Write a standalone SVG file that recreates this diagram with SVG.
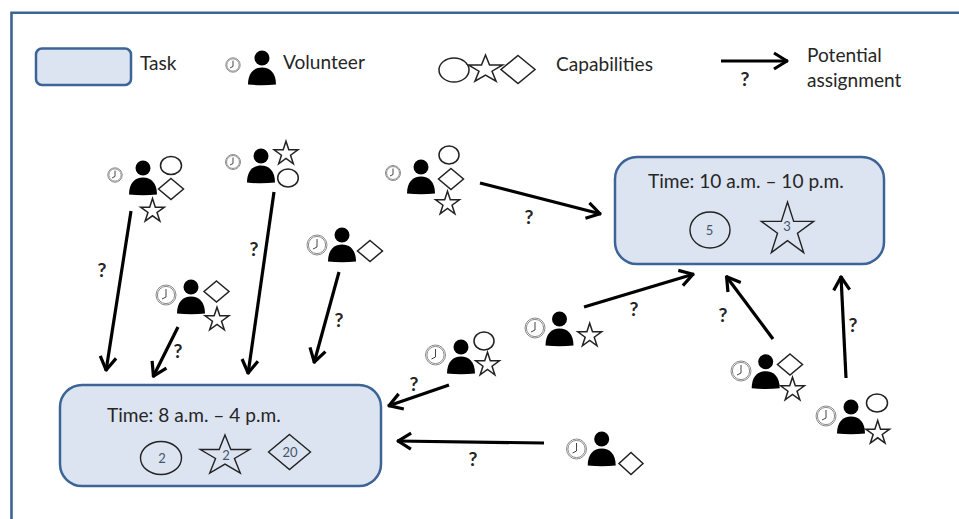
<svg xmlns="http://www.w3.org/2000/svg" width="959" height="519" viewBox="0 0 959 519">
<style>
text{font-family:Lato,"Open Sans",sans-serif;fill:#262626}
.lab{font-size:19.1px}
.num{font-size:13px;text-anchor:middle;fill:#44546a}
.q{font-size:19.5px;font-weight:700;text-anchor:middle}
.task{fill:#dce4f1;stroke:#3c6496;stroke-width:2.5}
.shape{vector-effect:non-scaling-stroke}
.cap{fill:#fff;stroke:#222;stroke-width:1.5}
.tcap{fill:none;stroke:#222;stroke-width:1.4}
.arr{fill:none;stroke:#000;stroke-width:3.2;marker-end:url(#head)}
.ck{fill:#fff;stroke:#8c8c8c;stroke-width:1;vector-effect:non-scaling-stroke}
.hand{fill:none;stroke:#444;stroke-width:1;vector-effect:non-scaling-stroke}
</style>
<defs>
<marker id="head" markerUnits="userSpaceOnUse" markerWidth="20" markerHeight="22" viewBox="-17 -11 20 22" refX="0" refY="0" orient="auto">
<path d="M-14 -8L-1 0L-14 8" fill="none" stroke="#000" stroke-width="3.2" stroke-linejoin="round"/>
</marker>
<g id="person"><circle cx="0" cy="0" r="7.5" fill="#000"/><path d="M-14 26.5C-14 15 -8 9.5 0 9.5C8 9.5 14 15 14 26.5Q0 28 -14 26.5Z" fill="#000"/></g>
<g id="clock"><circle class="ck" r="10"/><circle class="ck" r="8.6"/><path class="hand" d="M0 -6V2L-4 4"/></g>
<polygon id="star" class="shape" points="0,-10 2.245,-3.09 9.51,-3.09 3.63,1.18 5.88,8.09 0,3.82 -5.88,8.09 -3.63,1.18 -9.51,-3.09 -2.245,-3.09"/>
<polygon id="diamond" class="shape" points="0,-10 10,0 0,10 -10,0"/>
</defs>
<rect width="959" height="519" fill="#fff"/>
<path d="M11.5 519V12.7H959" fill="none" stroke="#3c6496" stroke-width="2.6"/>

<g id="legend-task"><rect class="task" x="36" y="48.5" width="95" height="36.5" rx="6"/><text class="lab" x="140" y="70">Task</text></g>
<g id="legend-volunteer"><use href="#clock" transform="translate(233,65) scale(.72)"/><use href="#person" x="262" y="58"/><text class="lab" x="283" y="69">Volunteer</text></g>
<g id="legend-capabilities">
<ellipse class="cap" cx="454" cy="70" rx="15" ry="12"/>
<use href="#star" class="cap" transform="translate(485.5,69.5) scale(1.8,1.45)"/>
<use href="#diamond" class="cap" transform="translate(518,69.5) scale(1.7,1.4)"/>
<text class="lab" x="556" y="71">Capabilities</text></g>
<g id="legend-assignment"><text class="lab" x="807" y="62">Potential</text><text class="lab" x="807" y="87">assignment</text></g>

<g id="task-a"><rect class="task" x="615" y="157" width="269" height="107" rx="22"/>
<text class="lab" x="648" y="188">Time: 10 a.m. – 10 p.m.</text>
<ellipse class="tcap" cx="710" cy="230" rx="20" ry="18"/><text class="num" x="709.5" y="234.5">5</text>
<use href="#star" class="tcap" transform="translate(787.5,230) scale(2.75,2.8)"/><text class="num" x="787" y="231">3</text></g>
<g id="task-b"><rect class="task" x="60" y="385" width="321" height="101" rx="22"/>
<text class="lab" x="107" y="422">Time: 8 a.m. – 4 p.m.</text>
<ellipse class="tcap" cx="161" cy="458" rx="20.5" ry="16.5"/><text class="num" x="162" y="462.5">2</text>
<use href="#star" class="tcap" transform="translate(225,456) scale(2.6,2.1)"/><text class="num" x="226" y="460">2</text>
<use href="#diamond" class="tcap" transform="translate(289.5,452) scale(2.1,1.75)"/><text class="num" x="290" y="456.5">20</text></g>

<g id="vol-1"><use href="#clock" transform="translate(115,175) scale(.72)"/><use href="#person" x="143" y="168"/><ellipse class="cap" cx="171" cy="165.5" rx="10.5" ry="9"/><use href="#diamond" class="cap" transform="translate(171,189) scale(1.25,1.05)"/><use href="#star" class="cap" transform="translate(152.5,211) scale(1.25)"/></g>
<g id="vol-2"><use href="#clock" transform="translate(233,162) scale(.75)"/><use href="#person" x="261" y="156"/><use href="#star" class="cap" transform="translate(286,153.7) scale(1.25)"/><ellipse class="cap" cx="288" cy="178" rx="10.3" ry="9"/></g>
<g id="vol-3"><use href="#clock" transform="translate(393,173) scale(.75)"/><use href="#person" x="421" y="167"/><ellipse class="cap" cx="449" cy="155" rx="10" ry="9"/><use href="#diamond" class="cap" transform="translate(451,179) scale(1.25,1.05)"/><use href="#star" class="cap" transform="translate(447.5,203.7) scale(1.25)"/></g>
<g id="vol-4"><use href="#clock" transform="translate(317,245)"/><use href="#person" x="342" y="235"/><use href="#diamond" class="cap" transform="translate(370,251) scale(1.25,1.05)"/></g>
<g id="vol-5"><use href="#clock" transform="translate(166,295)"/><use href="#person" x="191" y="287"/><use href="#diamond" class="cap" transform="translate(216.5,291.5) scale(1.25,1.05)"/><use href="#star" class="cap" transform="translate(217,319.7) scale(1.25)"/></g>
<g id="vol-6"><use href="#clock" transform="translate(435.5,355)"/><use href="#person" x="461" y="347"/><ellipse class="cap" cx="484" cy="341" rx="10" ry="9"/><use href="#star" class="cap" transform="translate(487.5,364.7) scale(1.25)"/></g>
<g id="vol-7"><use href="#clock" transform="translate(535,328)"/><use href="#person" x="559.5" y="319"/><use href="#star" class="cap" transform="translate(589.7,335.7) scale(1.25)"/></g>
<g id="vol-8"><use href="#clock" transform="translate(741,371)"/><use href="#person" x="765.7" y="361.7"/><use href="#diamond" class="cap" transform="translate(790,364.5) scale(1.25,1.05)"/><use href="#star" class="cap" transform="translate(792.5,389.7) scale(1.25)"/></g>
<g id="vol-9"><use href="#clock" transform="translate(826,416)"/><use href="#person" x="851" y="407"/><ellipse class="cap" cx="877" cy="403" rx="10.5" ry="9"/><use href="#star" class="cap" transform="translate(877.7,433) scale(1.25)"/></g>
<g id="vol-10"><use href="#clock" transform="translate(576.5,449)"/><use href="#person" x="601.7" y="439"/><use href="#diamond" class="cap" transform="translate(631,463.5) scale(1.2,1.1)"/></g>

<g id="connectors">
<line class="arr" x1="721" y1="61" x2="788" y2="61"/>
<line class="arr" x1="131" y1="211" x2="106" y2="371"/>
<line class="arr" x1="178" y1="327" x2="153" y2="377"/>
<line class="arr" x1="274" y1="192" x2="248" y2="374"/>
<line class="arr" x1="339" y1="272" x2="314" y2="363"/>
<line class="arr" x1="480" y1="183" x2="601" y2="214"/>
<line class="arr" x1="584" y1="307" x2="694" y2="274"/>
<line class="arr" x1="773" y1="339" x2="726" y2="276"/>
<line class="arr" x1="846" y1="378" x2="841" y2="276"/>
<line class="arr" x1="449" y1="385" x2="388" y2="406"/>
<line class="arr" x1="544" y1="443" x2="397" y2="441"/>
<g>
<text class="q" x="745" y="86">?</text>
<text class="q" x="102" y="277">?</text>
<text class="q" x="254" y="256">?</text>
<text class="q" x="339" y="327">?</text>
<text class="q" x="178" y="358">?</text>
<text class="q" x="529" y="224">?</text>
<text class="q" x="634" y="316">?</text>
<text class="q" x="723" y="322">?</text>
<text class="q" x="853" y="332">?</text>
<text class="q" x="414" y="391">?</text>
<text class="q" x="473" y="466">?</text>
</g>
</g>
</svg>
